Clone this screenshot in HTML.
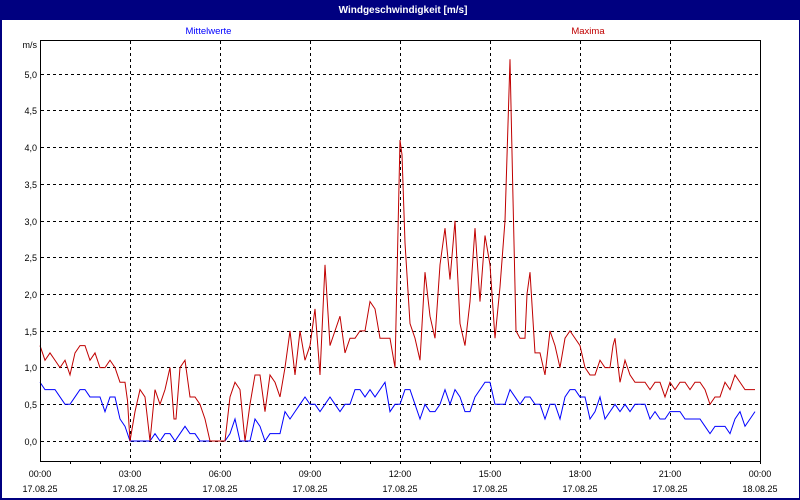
<!DOCTYPE html>
<html>
<head>
<meta charset="utf-8">
<style>
html,body{margin:0;padding:0;background:#fff;}
svg{display:block;}
text{font-family:"Liberation Sans","DejaVu Sans",sans-serif;}
</style>
</head>
<body>
<svg width="800" height="500" viewBox="0 0 800 500" xmlns="http://www.w3.org/2000/svg">
  <rect x="0" y="0" width="800" height="500" fill="#ffffff"/>
  <!-- title bar -->
  <rect x="0" y="0" width="800" height="20" fill="#000080"/>
  <text x="403" y="13" font-size="10" font-weight="bold" fill="#ffffff" text-anchor="middle">Windgeschwindigkeit [m/s]</text>
  <!-- outer frame -->
  <rect x="0" y="20" width="2" height="480" fill="#000080"/>
  <rect x="799" y="20" width="1" height="480" fill="#000080"/>
  <rect x="0" y="498" width="800" height="2" fill="#000080"/>

  <!-- legend -->
  <text x="208.5" y="34" font-size="9.5" fill="#0000ff" text-anchor="middle">Mittelwerte</text>
  <text x="588" y="34" font-size="9.5" fill="#c00000" text-anchor="middle">Maxima</text>

  <!-- grid -->
  <g stroke="#000" stroke-width="1" stroke-dasharray="3,3" fill="none">
    <line x1="41" y1="441.5" x2="760" y2="441.5"/>
    <line x1="41" y1="404.5" x2="760" y2="404.5"/>
    <line x1="41" y1="367.5" x2="760" y2="367.5"/>
    <line x1="41" y1="331.5" x2="760" y2="331.5"/>
    <line x1="41" y1="294.5" x2="760" y2="294.5"/>
    <line x1="41" y1="257.5" x2="760" y2="257.5"/>
    <line x1="41" y1="221.5" x2="760" y2="221.5"/>
    <line x1="41" y1="184.5" x2="760" y2="184.5"/>
    <line x1="41" y1="147.5" x2="760" y2="147.5"/>
    <line x1="41" y1="110.5" x2="760" y2="110.5"/>
    <line x1="41" y1="74.5" x2="760" y2="74.5"/>
    <line x1="130.5" y1="41" x2="130.5" y2="461"/>
    <line x1="220.5" y1="41" x2="220.5" y2="461"/>
    <line x1="310.5" y1="41" x2="310.5" y2="461"/>
    <line x1="400.5" y1="41" x2="400.5" y2="461"/>
    <line x1="490.5" y1="41" x2="490.5" y2="461"/>
    <line x1="580.5" y1="41" x2="580.5" y2="461"/>
    <line x1="670.5" y1="41" x2="670.5" y2="461"/>
  </g>

  <!-- series -->
  <g transform="translate(0,441) scale(1,-73.4)" fill="none">
    <polyline vector-effect="non-scaling-stroke" stroke="#0000ff" stroke-width="1" points="40,0.8 45,0.7 50,0.7 55,0.7 60,0.6 65,0.5 70,0.5 75,0.6 80,0.7 85,0.7 90,0.6 95,0.6 100,0.6 105,0.4 110,0.6 115,0.6 120,0.3 125,0.2 130,0 135,0 140,0 145,0 150,0 155,0.1 160,0 165,0.1 170,0.1 175,0 180,0.1 185,0.2 190,0.1 195,0.1 200,0 205,0 210,0 215,0 220,0 225,0 230,0.1 235,0.3 240,0 245,0 250,0 255,0.3 260,0.2 265,0 270,0.1 275,0.1 280,0.1 285,0.4 290,0.3 295,0.4 300,0.5 305,0.6 310,0.5 315,0.5 320,0.4 325,0.5 330,0.6 335,0.5 340,0.4 345,0.5 350,0.5 355,0.7 360,0.7 365,0.6 370,0.7 375,0.6 380,0.7 385,0.8 390,0.4 395,0.5 400,0.5 405,0.7 410,0.7 415,0.5 420,0.3 425,0.5 430,0.4 435,0.4 440,0.5 445,0.7 450,0.5 455,0.7 460,0.6 465,0.4 470,0.4 475,0.6 480,0.7 485,0.8 490,0.8 495,0.5 500,0.5 505,0.5 510,0.7 515,0.6 520,0.5 525,0.6 530,0.6 535,0.5 540,0.5 545,0.3 550,0.5 555,0.5 560,0.3 565,0.6 570,0.7 575,0.7 580,0.6 585,0.6 590,0.3 595,0.4 600,0.6 605,0.3 610,0.4 615,0.5 620,0.4 625,0.5 630,0.4 635,0.5 640,0.5 645,0.5 650,0.3 655,0.4 660,0.3 665,0.3 670,0.4 675,0.4 680,0.4 685,0.3 690,0.3 695,0.3 700,0.3 705,0.2 710,0.1 715,0.2 720,0.2 725,0.2 730,0.1 735,0.3 740,0.4 745,0.2 750,0.3 755,0.4"/>
    <polyline vector-effect="non-scaling-stroke" stroke="#c00000" stroke-width="1" points="40,1.3 45,1.1 50,1.2 55,1.1 60,1.0 65,1.1 70,0.9 75,1.2 80,1.3 85,1.3 90,1.1 95,1.2 100,1.0 105,1.0 110,1.1 115,1.0 120,0.8 125,0.8 127.5,0.55 130,0 135,0.4 140,0.7 145,0.6 150,0 155,0.7 160,0.5 165,0.7 170,1.0 174,0.3 176,0.3 180,1.0 185,1.1 190,0.6 195,0.6 200,0.5 205,0.3 210,0 225,0 230,0.6 235,0.8 240,0.7 245,0 250,0.5 255,0.9 260,0.9 265,0.4 270,0.9 275,0.8 280,0.6 285,1.0 290,1.5 295,0.9 300,1.5 305,1.1 310,1.3 315,1.8 320,0.9 325,2.4 330,1.3 335,1.5 340,1.7 345,1.2 350,1.4 355,1.4 360,1.5 365,1.5 370,1.9 375,1.8 380,1.4 385,1.4 390,1.4 395,1.0 400,4.1 402,3.9 405,2.7 410,1.6 415,1.4 420,1.1 425,2.3 430,1.7 435,1.4 440,2.4 445,2.9 450,2.2 455,3.0 460,1.6 465,1.3 470,1.9 475,2.9 480,1.9 485,2.8 490,2.4 495,1.4 500,2.1 505,3.0 510,5.2 513,3.3 516,1.5 520,1.4 525,1.4 527,2.0 530,2.3 535,1.2 540,1.2 545,0.9 550,1.5 555,1.3 560,1.0 565,1.4 570,1.5 575,1.4 580,1.3 585,1.0 590,0.9 595,0.9 600,1.1 605,1.0 610,1.0 613,1.3 615,1.4 620,0.8 625,1.1 630,0.9 635,0.8 640,0.8 645,0.8 650,0.7 655,0.8 660,0.8 665,0.6 670,0.8 675,0.7 680,0.8 685,0.8 690,0.7 695,0.8 700,0.8 705,0.7 710,0.5 715,0.6 720,0.6 725,0.8 730,0.7 735,0.9 740,0.8 745,0.7 750,0.7 755,0.7"/>
  </g>

  <!-- plot frame -->
  <rect x="40.5" y="40.5" width="720" height="421" fill="none" stroke="#000" stroke-width="1"/>

  <!-- x ticks -->
  <g stroke="#000" stroke-width="1">
    <line x1="70.5" y1="461" x2="70.5" y2="464"/>
    <line x1="100.5" y1="461" x2="100.5" y2="464"/>
    <line x1="130.5" y1="461" x2="130.5" y2="464"/>
    <line x1="160.5" y1="461" x2="160.5" y2="464"/>
    <line x1="190.5" y1="461" x2="190.5" y2="464"/>
    <line x1="220.5" y1="461" x2="220.5" y2="464"/>
    <line x1="250.5" y1="461" x2="250.5" y2="464"/>
    <line x1="280.5" y1="461" x2="280.5" y2="464"/>
    <line x1="310.5" y1="461" x2="310.5" y2="464"/>
    <line x1="340.5" y1="461" x2="340.5" y2="464"/>
    <line x1="370.5" y1="461" x2="370.5" y2="464"/>
    <line x1="400.5" y1="461" x2="400.5" y2="464"/>
    <line x1="430.5" y1="461" x2="430.5" y2="464"/>
    <line x1="460.5" y1="461" x2="460.5" y2="464"/>
    <line x1="490.5" y1="461" x2="490.5" y2="464"/>
    <line x1="520.5" y1="461" x2="520.5" y2="464"/>
    <line x1="550.5" y1="461" x2="550.5" y2="464"/>
    <line x1="580.5" y1="461" x2="580.5" y2="464"/>
    <line x1="610.5" y1="461" x2="610.5" y2="464"/>
    <line x1="640.5" y1="461" x2="640.5" y2="464"/>
    <line x1="670.5" y1="461" x2="670.5" y2="464"/>
    <line x1="700.5" y1="461" x2="700.5" y2="464"/>
    <line x1="730.5" y1="461" x2="730.5" y2="464"/>
    <line x1="760.5" y1="461" x2="760.5" y2="464"/>
  </g>

  <!-- y labels -->
  <g font-size="9" fill="#000" text-anchor="end">
    <text x="37" y="48">m/s</text>
    <text x="37" y="78">5,0</text>
    <text x="37" y="114">4,5</text>
    <text x="37" y="151">4,0</text>
    <text x="37" y="188">3,5</text>
    <text x="37" y="225">3,0</text>
    <text x="37" y="261">2,5</text>
    <text x="37" y="298">2,0</text>
    <text x="37" y="335">1,5</text>
    <text x="37" y="371">1,0</text>
    <text x="37" y="408">0,5</text>
    <text x="37" y="445">0,0</text>
  </g>

  <!-- x labels -->
  <g font-size="9" fill="#000" text-anchor="middle">
    <text x="40" y="477">00:00</text><text x="40" y="492">17.08.25</text>
    <text x="130" y="477">03:00</text><text x="130" y="492">17.08.25</text>
    <text x="220" y="477">06:00</text><text x="220" y="492">17.08.25</text>
    <text x="310" y="477">09:00</text><text x="310" y="492">17.08.25</text>
    <text x="400" y="477">12:00</text><text x="400" y="492">17.08.25</text>
    <text x="490" y="477">15:00</text><text x="490" y="492">17.08.25</text>
    <text x="580" y="477">18:00</text><text x="580" y="492">17.08.25</text>
    <text x="670" y="477">21:00</text><text x="670" y="492">17.08.25</text>
    <text x="760" y="477">00:00</text><text x="760" y="492">18.08.25</text>
  </g>
</svg>
</body>
</html>
